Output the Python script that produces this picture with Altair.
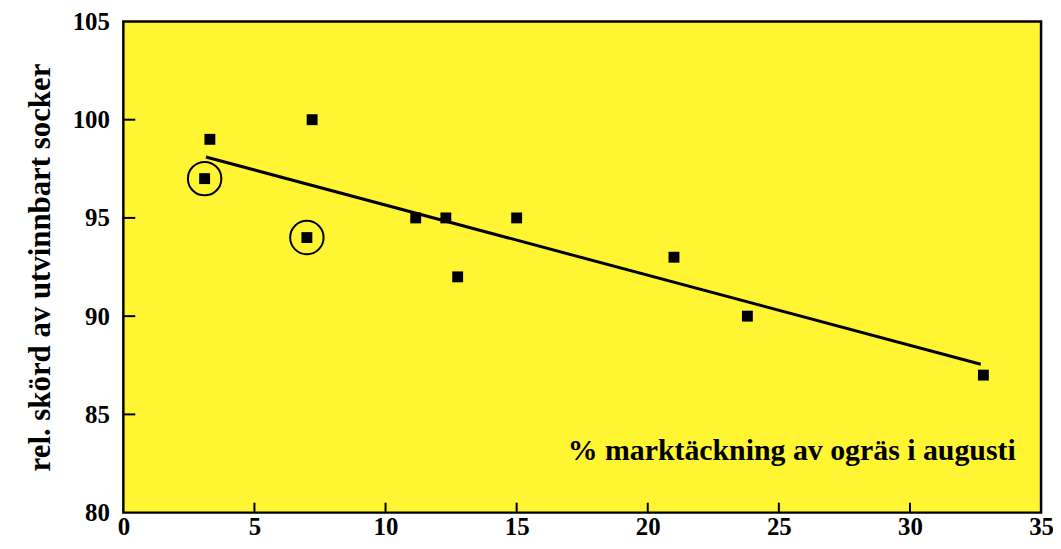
import altair as alt
import pandas as pd

# data
x_vals = [3.1, 3.3, 7.0, 7.2, 11.15, 12.3, 12.75, 15.0, 21.0, 23.8, 32.8]
y_vals = [97, 99, 94, 100, 95, 95, 92, 95, 93, 90, 87]

circ_x = [3.1, 7.0]
circ_y = [97, 94]

line_x = [3.15, 32.7]
line_y = [98.1, 87.55]

x_ticks = [5, 10, 15, 20, 25, 30]
y_ticks = [85, 90, 95, 100]

W, H = 923, 494
FONT = "Liberation Serif"

pts = pd.DataFrame({"x": x_vals, "y": y_vals})
circ = pd.DataFrame({"x": circ_x, "y": circ_y})
line = pd.DataFrame({"x": line_x, "y": line_y})
xt = pd.DataFrame({"x": x_ticks})
yt = pd.DataFrame({"y": y_ticks})

xscale = alt.Scale(domain=[0, 35], nice=False, zero=False)
yscale = alt.Scale(domain=[80, 105], nice=False, zero=False)

xaxis = alt.Axis(
    values=[0, 5, 10, 15, 20, 25, 30, 35], format="d",
    ticks=False, domain=False, grid=False,
    labelFont=FONT, labelFontWeight="bold", labelFontSize=25, labelColor="black",
    labelPadding=2, labelFlush=False, labelOverlap=False,
    title="% marktäckning av ogräs i augusti",
    titleFont=FONT, titleFontWeight="bold", titleFontSize=30, titleColor="black",
    titleX=897, titleY=-53, titleAlign="right", titleBaseline="alphabetic",
)
yaxis = alt.Axis(
    values=[80, 85, 90, 95, 100, 105], format="d",
    ticks=False, domain=False, grid=False,
    labelFont=FONT, labelFontWeight="bold", labelFontSize=25, labelColor="black",
    labelPadding=14, labelFlush=False, labelOverlap=False,
    title="rel. skörd av utvinnbart socker",
    titleFont=FONT, titleFontWeight="bold", titleFontSize=31, titleColor="black",
    titlePadding=16,
)

points = alt.Chart(pts).mark_point(
    shape="square", filled=True, color="black", size=120, opacity=1
).encode(
    x=alt.X("x:Q", scale=xscale, axis=xaxis),
    y=alt.Y("y:Q", scale=yscale, axis=yaxis),
)

circles = alt.Chart(circ).mark_point(
    shape="circle", filled=False, color="black", size=1130, strokeWidth=2, opacity=1
).encode(
    x=alt.X("x:Q", scale=xscale),
    y=alt.Y("y:Q", scale=yscale),
)

trend = alt.Chart(line).mark_line(color="black", strokeWidth=3).encode(
    x=alt.X("x:Q", scale=xscale),
    y=alt.Y("y:Q", scale=yscale),
)

xtick_marks = alt.Chart(xt).mark_rule(color="black", strokeWidth=2).encode(
    x=alt.X("x:Q", scale=xscale),
    y=alt.value(H),
    y2=alt.value(H - 10),
)
ytick_marks = alt.Chart(yt).mark_rule(color="black", strokeWidth=2).encode(
    y=alt.Y("y:Q", scale=yscale),
    x=alt.value(0),
    x2=alt.value(12),
)

chart = alt.layer(trend, circles, points, xtick_marks, ytick_marks).properties(
    width=W, height=H,
    autosize=alt.AutoSizeParams(type="none"),
    padding={"left": 116, "top": 12, "right": 12, "bottom": 26},
    background="white",
).configure_view(
    fill="#FFF533", stroke="black", strokeWidth=2.5
)

chart.save("out.html", embed_options={"renderer": "svg", "actions": False})
